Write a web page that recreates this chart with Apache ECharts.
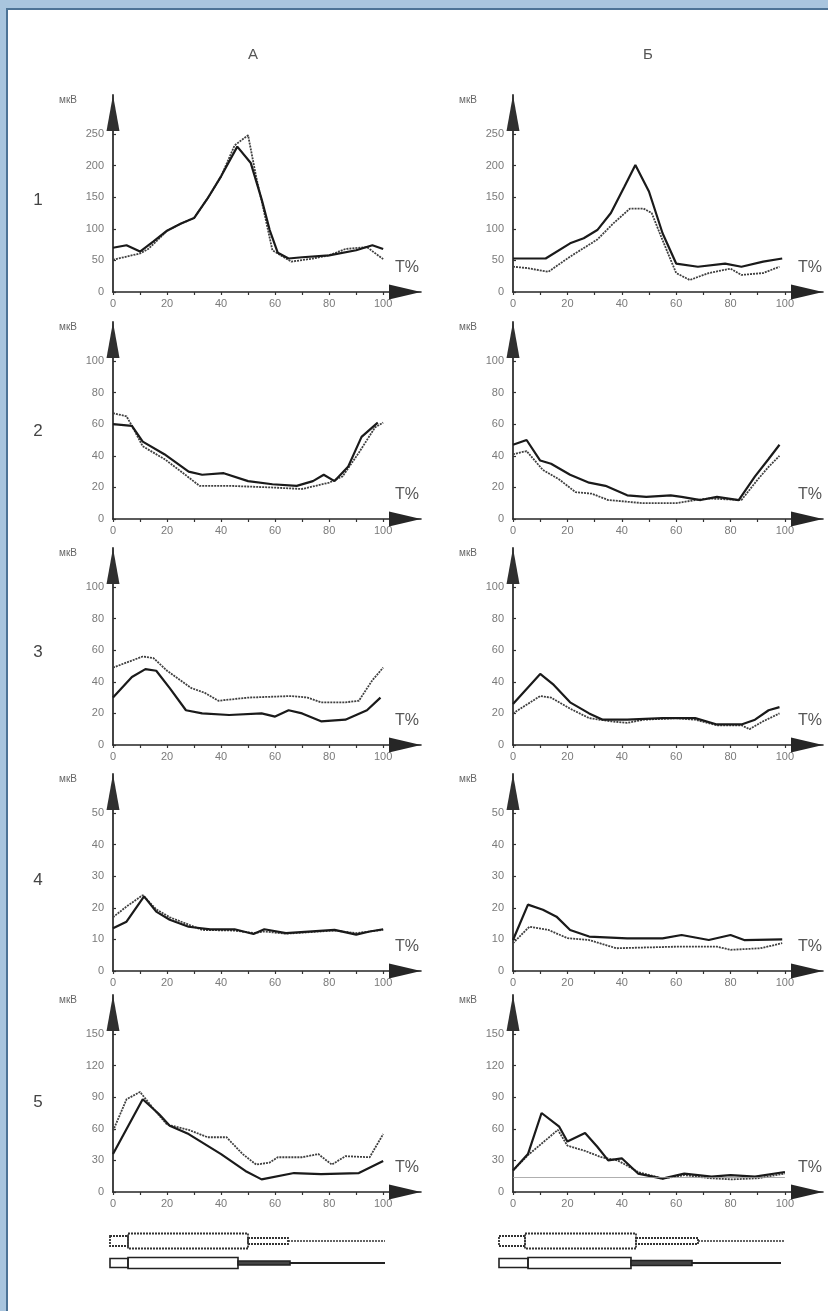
<!DOCTYPE html>
<html><head><meta charset="utf-8">
<script src="https://cdn.jsdelivr.net/npm/echarts@6/dist/echarts.min.js"></script>
<style>html,body{margin:0;padding:0;background:#fff}#c{width:828px;height:1311px}</style>
</head><body><div id="c"></div>
<script>
// ---------- data ----------
const columnTitles = ['А', 'Б'];
const rowNumbers = ['1', '2', '3', '4', '5'];
const yUnit = 'мкВ';
const xUnit = 'T%';
const xTickLabels = [0, 20, 40, 60, 80, 100];
const xTickMarks = [0, 10, 20, 30, 40, 50, 60, 70, 80, 90, 100];
const yTicksRow1 = [0, 50, 100, 150, 200, 250];
const yTicksRow2 = [0, 20, 40, 60, 80, 100];
const yTicksRow3 = [0, 20, 40, 60, 80, 100];
const yTicksRow4 = [0, 10, 20, 30, 40, 50];
const yTicksRow5 = [0, 30, 60, 90, 120, 150];

const A1_solid = [[0,70],[5,74],[10,64],[15,80],[20,97],[25,108],[30,117],[35,148],[40,183],[46,230],[51,204],[55,147],[58,98],[61,62],[65,53],[70,55],[80,58],[90,66],[96,74],[100,68]];
const A1_dotted = [[0,51],[5,56],[10,61],[13,68],[16,80],[20,97],[25,108],[30,117],[35,148],[40,183],[45,232],[50,248],[53,182],[56,125],[59,66],[66,48],[74,53],[80,58],[86,68],[94,71],[100,52]];
const B1_solid = [[0,53],[12,53],[21,77],[26,85],[31,98],[36,125],[41,167],[45,201],[50,159],[55,93],[60,45],[68,40],[78,45],[84,40],[92,48],[99,53]];
const B1_dotted = [[0,40],[5,38],[13,32],[21,56],[31,83],[37,109],[43,132],[48,132],[51,125],[55,82],[60,30],[65,19],[72,30],[80,37],[84,27],[92,30],[98,40]];

const A2_solid = [[0,60],[7,59],[11,49],[19,41],[28,30],[33,28],[41,29],[50,24],[59,22],[68,21],[74,24],[78,28],[82,24],[87,33],[92,52],[98,61]];
const A2_dotted = [[0,67],[5,65],[7,59],[11,46],[19,38],[26,29],[32,21],[43,21],[58,20],[70,19],[80,23],[85,27],[91,42],[97,58],[100,61]];
const B2_solid = [[0,47],[5,50],[10,37],[14,35],[21,28],[28,23],[34,21],[42,15],[49,14],[58,15],[62,14],[69,12],[75,14],[83,12],[89,27],[94,38],[98,47]];
const B2_dotted = [[0,41],[5,43],[11,31],[17,25],[23,17],[29,16],[35,12],[48,10],[60,10],[67,12],[72,13],[84,12],[90,25],[94,33],[98,40]];

const A3_solid = [[0,30],[7,43],[12,48],[16,47],[21,36],[27,22],[33,20],[43,19],[55,20],[60,18],[65,22],[70,20],[77,15],[86,16],[94,22],[99,30]];
const A3_dotted = [[0,49],[11,56],[15,55],[20,47],[29,36],[34,33],[39,28],[50,30],[66,31],[72,30],[77,27],[86,27],[91,28],[96,41],[100,49]];
const B3_solid = [[0,26],[10,45],[15,38],[21,27],[28,20],[33,16],[42,16],[55,17],[67,17],[75,13],[84,13],[89,16],[94,22],[98,24]];
const B3_dotted = [[0,20],[10,31],[14,30],[21,23],[28,17],[36,15],[42,14],[48,16],[60,17],[67,16],[75,12.5],[84,12.5],[87,10],[92,15],[98,20]];

const A4_solid = [[0,13.5],[5,15.6],[11.5,23.6],[16,18.8],[21,16.2],[28,14],[36,13.2],[45,13.2],[52,11.7],[56,13.2],[64,12],[82,13],[90,11.5],[95,12.5],[100,13.2]];
const A4_dotted = [[0,17],[5,20.4],[11,24],[16,19.5],[21,17],[27,15],[33,13],[45,12.8],[52,12],[56,12.5],[64,11.8],[82,12.8],[90,12],[95,12.5],[100,13]];
const B4_solid = [[0,9.8],[5.5,21],[11,19.4],[16,17.2],[21,13],[28,10.9],[42,10.3],[55,10.3],[62,11.4],[72,9.8],[80,11.4],[85,9.8],[99,10]];
const B4_dotted = [[0,8.8],[6,14],[13,13],[20,10.4],[28,9.8],[38,7.2],[60,7.7],[75,7.7],[80,6.7],[91,7.2],[99,8.8]];

const A5_solid = [[0,36],[11,88],[17,74],[21,63],[28,55],[40,36],[49,20],[55,12],[67,18],[77,17],[91,18],[100,29.5]];
const A5_dotted = [[0,58],[5,88],[10,95],[15,79],[20,64],[28,59],[35,52],[42,52],[48,36],[53,26],[58,28],[61,33],[70,33],[76,36],[81,26],[86,34],[95,33],[100,55]];
const B5_solid = [[0,20.5],[5.5,36],[10.5,75],[17,62],[20,48],[26.5,56],[31,43],[35,30],[40,32],[46,17.5],[55,12.7],[63,17.5],[73,14.6],[80,16],[89,14.6],[100,19]];
const B5_dotted = [[0,20.5],[5.5,35],[16.5,59],[20,44],[26.5,39],[32.5,33],[38.5,30],[46,19],[55,12.7],[63,16],[73,13],[80.5,12],[90,13],[100,17.6]];
const B5_refLine = 14;

// ---------- layout ----------
const rowZeroY = [292, 519, 745, 971, 1192];
const plotH = 197;            // from zero to arrow tip
const tickSpan = 158;         // from zero to top tick
const colLeft = [113, 513];
const colWidth = [308, 310];
const xMax = 114;
const font = '"Liberation Sans", Arial, sans-serif';

const rowsTicks = [yTicksRow1, yTicksRow2, yTicksRow3, yTicksRow4, yTicksRow5];
const panelData = [
  [A1_solid, A1_dotted], [B1_solid, B1_dotted],
  [A2_solid, A2_dotted], [B2_solid, B2_dotted],
  [A3_solid, A3_dotted], [B3_solid, B3_dotted],
  [A4_solid, A4_dotted], [B4_solid, B4_dotted],
  [A5_solid, A5_dotted], [B5_solid, B5_dotted]
];

const grid = [], xAxis = [], yAxis = [], series = [], graphic = [];
const axisColor = '#262626';
for (let r = 0; r < 5; r++) {
  for (let c = 0; c < 2; c++) {
    const i = r * 2 + c;
    const ticks = rowsTicks[r];
    const top = ticks[ticks.length - 1];
    grid.push({ left: colLeft[c], top: rowZeroY[r] - plotH, width: colWidth[c], height: plotH });
    xAxis.push({
      gridIndex: i, type: 'value', min: 0, max: xMax,
      axisLine: { show: true, onZero: false, lineStyle: { color: axisColor, width: 1.6 },
        symbol: ['none', 'triangle'], symbolSize: [15, 32], symbolOffset: [0, -16] },
      axisTick: { show: true, customValues: xTickMarks, length: 3, lineStyle: { color: '#333', width: 1.2 } },
      axisLabel: { customValues: xTickLabels, color: '#7a7a7a', fontSize: 11, margin: 6, fontFamily: font },
      splitLine: { show: false }
    });
    yAxis.push({
      gridIndex: i, type: 'value', min: 0, max: top * plotH / tickSpan,
      axisLine: { show: true, onZero: false, lineStyle: { color: '#303030', width: 1.8 },
        symbol: ['none', 'triangle'], symbolSize: [13, 36], symbolOffset: [0, -18] },
      axisTick: { show: true, customValues: ticks, length: 3, inside: true, lineStyle: { color: '#333', width: 1.2 } },
      axisLabel: { customValues: ticks, color: '#7a7a7a', fontSize: 11, margin: 9, fontFamily: font },
      splitLine: { show: false }
    });
    const [solid, dotted] = panelData[i];
    series.push({
      type: 'line', xAxisIndex: i, yAxisIndex: i, data: dotted, showSymbol: false, symbol: 'none',
      lineStyle: { color: '#404040', width: 1.8, type: [2, 1] }, z: 2
    });
    const s = {
      type: 'line', xAxisIndex: i, yAxisIndex: i, data: solid, showSymbol: false, symbol: 'none',
      lineStyle: { color: '#1a1a1a', width: 2.2 }, z: 3
    };
    if (i === 9) {
      s.markLine = { silent: true, symbol: 'none', label: { show: false },
        lineStyle: { color: '#9a9a9a', width: 0.8, type: 'solid' },
        data: [[{ coord: [0, B5_refLine] }, { coord: [100, B5_refLine] }]] };
    }
    series.push(s);
    graphic.push({ type: 'text', x: colLeft[c] - 45, y: rowZeroY[r] - 192,
      style: { text: yUnit, font: '10px ' + font, fill: '#666', align: 'center', verticalAlign: 'middle' } });
    graphic.push({ type: 'text', x: colLeft[c] + (c === 0 ? 294 : 297), y: rowZeroY[r] - 24,
      style: { text: xUnit, font: '16px ' + font, fill: '#555', align: 'center', verticalAlign: 'middle' } });
  }
  graphic.push({ type: 'text', x: 38, y: [200, 431, 652, 880, 1102][r],
    style: { text: rowNumbers[r], font: '17px ' + font, fill: '#444', align: 'center', verticalAlign: 'middle' } });
}
graphic.push({ type: 'text', x: 253, y: 55, style: { text: columnTitles[0], font: '15px ' + font, fill: '#555', align: 'center', verticalAlign: 'middle' } });
graphic.push({ type: 'text', x: 648, y: 55, style: { text: columnTitles[1], font: '15px ' + font, fill: '#555', align: 'center', verticalAlign: 'middle' } });

// frame
graphic.push({ type: 'rect', shape: { x: 0, y: 0, width: 828, height: 8 }, style: { fill: '#a9c5de' }, z: 100 });
graphic.push({ type: 'rect', shape: { x: 0, y: 0, width: 6, height: 1311 }, style: { fill: '#a9c5de' }, z: 100 });
graphic.push({ type: 'rect', shape: { x: 6, y: 8, width: 822, height: 2 }, style: { fill: '#4d7396' }, z: 101 });
graphic.push({ type: 'rect', shape: { x: 6, y: 8, width: 2, height: 1303 }, style: { fill: '#4d7396' }, z: 101 });

// electrode schematics
function schematic(s, dotted) {
  const st = dotted ? { stroke: '#333', lineWidth: 1.8, lineDash: [2, 1], fill: 'none' }
                    : { stroke: '#222', lineWidth: 1.6, fill: 'none' };
  const cy = s.cy;
  graphic.push({ type: 'rect', shape: { x: s.x0, y: cy - s.h0 / 2, width: s.x1 - s.x0, height: s.h0 }, style: Object.assign({}, st) });
  graphic.push({ type: 'rect', shape: { x: s.x1, y: cy - s.h1 / 2, width: s.x2 - s.x1, height: s.h1 }, style: Object.assign({}, st) });
  graphic.push({ type: 'rect', shape: { x: s.x2, y: cy - s.h2 / 2, width: s.x3 - s.x2, height: s.h2 }, style: Object.assign({}, st, dotted ? {} : { fill: '#444' }) });
  graphic.push({ type: 'line', shape: { x1: s.x3, y1: cy, x2: s.x4, y2: cy }, style: Object.assign({}, st, { lineWidth: dotted ? 1.6 : 2 }) });
}
schematic({ x0: 110, x1: 128, x2: 248, x3: 288, x4: 385, cy: 1241, h0: 10, h1: 15, h2: 6 }, true);
schematic({ x0: 110, x1: 128, x2: 238, x3: 290, x4: 385, cy: 1263, h0: 9, h1: 11, h2: 4 }, false);
schematic({ x0: 499, x1: 525, x2: 636, x3: 698, x4: 784, cy: 1241, h0: 10, h1: 15, h2: 6 }, true);
schematic({ x0: 499, x1: 528, x2: 631, x3: 692, x4: 781, cy: 1263, h0: 9, h1: 11, h2: 5 }, false);

const chart = echarts.init(document.getElementById('c'), null, { renderer: 'canvas' });
chart.setOption({
  backgroundColor: '#ffffff',
  animation: false,
  grid, xAxis, yAxis, series, graphic
});
</script></body></html>
